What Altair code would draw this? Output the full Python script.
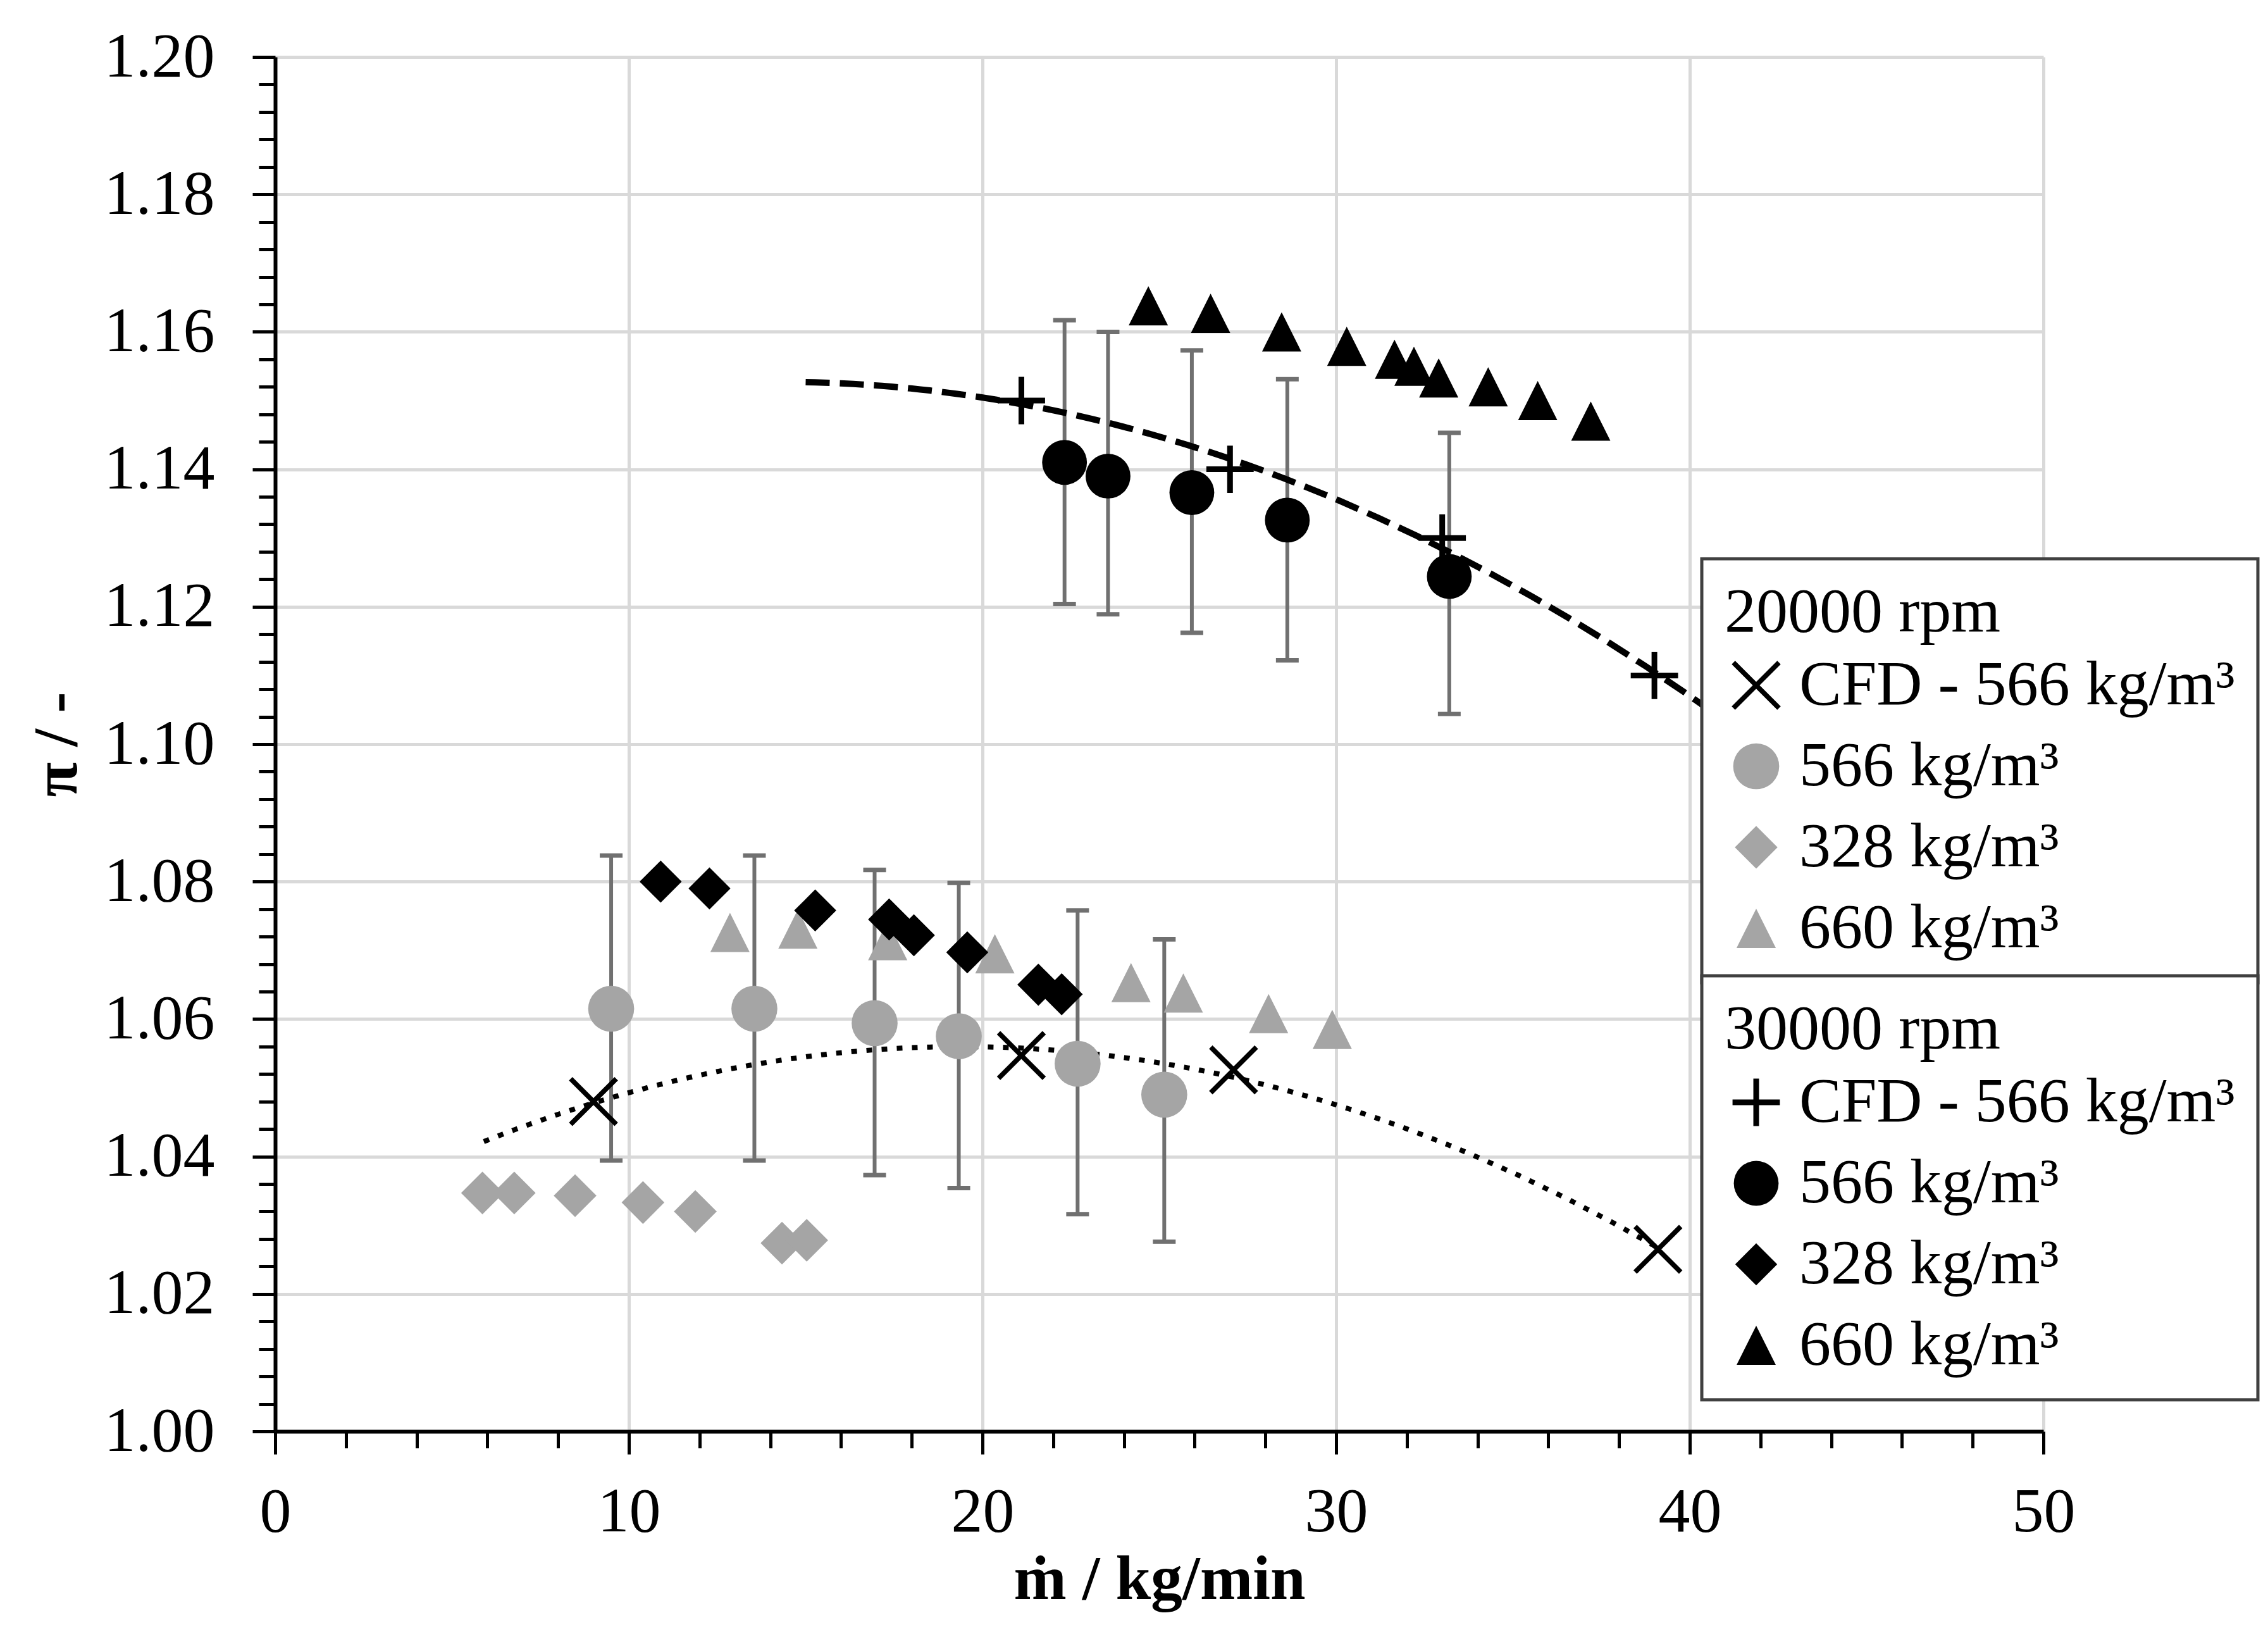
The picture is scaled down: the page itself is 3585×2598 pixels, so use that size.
import altair as alt
import pandas as pd

# ---------------- data ----------------
labels = ["CFD - 566 kg/m³", "566 kg/m³", "328 kg/m³", "660 kg/m³"]

# 20000 rpm
cfd20_x = [9.0, 21.1, 27.1, 39.1]
cfd20_y = [1.0480, 1.0547, 1.0526, 1.0265]
r566_20_x = [9.5, 13.55, 16.95, 19.33, 22.69, 25.14]
r566_20_y = [1.0615, 1.0615, 1.0594, 1.0575, 1.0535, 1.0490]
r566_20_lo = [1.0394, 1.0394, 1.0373, 1.0354, 1.0316, 1.0276]
r566_20_hi = [1.0838, 1.0838, 1.0817, 1.0798, 1.0758, 1.0716]
r328_20_x = [5.86, 6.76, 8.48, 10.4, 11.88, 14.33, 15.03]
r328_20_y = [1.0347, 1.0347, 1.0343, 1.0333, 1.0320, 1.0274, 1.0278]
r660_20_x = [12.86, 14.78, 17.32, 20.35, 24.2, 25.68, 28.09, 29.89]
r660_20_y = [1.0726, 1.0731, 1.0714, 1.0695, 1.0653, 1.0638, 1.0608, 1.0585]

# 30000 rpm
cfd30_x = [21.1, 27.0, 33.0, 39.0]
cfd30_y = [1.150, 1.140, 1.130, 1.110]
r566_30_x = [22.32, 23.55, 25.92, 28.62, 33.2]
r566_30_y = [1.1410, 1.1390, 1.1366, 1.1326, 1.1244]
r566_30_lo = [1.1204, 1.1189, 1.1162, 1.1122, 1.1044]
r566_30_hi = [1.1617, 1.1600, 1.1573, 1.1531, 1.1453]
r328_30_x = [10.9, 12.28, 15.27, 17.36, 18.06, 19.57, 21.58, 22.24]
r328_30_y = [1.0800, 1.0790, 1.0758, 1.0745, 1.0722, 1.0697, 1.0650, 1.0636]
r660_30_x = [24.69, 26.45, 28.46, 30.3, 31.65, 32.2, 32.9, 34.3, 35.7, 37.2]
r660_30_y = [1.1638, 1.1627, 1.1600, 1.1579, 1.1560, 1.1550, 1.1533, 1.1520, 1.1500, 1.1470]

x_ticks = list(range(0, 51, 2))
y_ticks = [round(1.0 + 0.004 * i, 3) for i in range(51)]

# ---------------- styles ----------------
FONT = "Liberation Serif"
GRAY = "#a5a5a5"
ERR = "#707070"
W, H = 2795, 2172
s = 0.14
X_PATH = (f"M0,-{s}L{1-s},-1L1,-{1-s}L{s},0L1,{1-s}L{1-s},1L0,{s}"
          f"L-{1-s},1L-1,{1-s}L-{s},0L-1,-{1-s}L-{1-s},-1Z")
h = 0.12
PLUS_PATH = (f"M-{h},-1L{h},-1L{h},-{h}L1,-{h}L1,{h}L{h},{h}L{h},1"
             f"L-{h},1L-{h},{h}L-1,{h}L-1,-{h}L-{h},-{h}Z")
TRI_PATH = "M0,-1L1,1L-1,1Z"


def frame(xs, ys, series):
    return pd.DataFrame({"x": xs, "y": ys, "series": series})


pts20 = pd.concat([
    frame(cfd20_x, cfd20_y, labels[0]),
    frame(r566_20_x, r566_20_y, labels[1]),
    frame(r328_20_x, r328_20_y, labels[2]),
    frame(r660_20_x, r660_20_y, labels[3]),
])
pts30 = pd.concat([
    frame(cfd30_x, cfd30_y, labels[0]),
    frame(r566_30_x, r566_30_y, labels[1]),
    frame(r328_30_x, r328_30_y, labels[2]),
    frame(r660_30_x, r660_30_y, labels[3]),
])
err20 = pd.DataFrame({"x": r566_20_x, "lo": r566_20_lo, "hi": r566_20_hi})
err30 = pd.DataFrame({"x": r566_30_x, "lo": r566_30_lo, "hi": r566_30_hi})
cfd20 = frame(cfd20_x, cfd20_y, labels[0])
cfd30 = frame(cfd30_x, cfd30_y, labels[0])

xscale = alt.Scale(domain=[0, 50], nice=False, zero=False)
yscale = alt.Scale(domain=[1.0, 1.2], nice=False, zero=False)

xminor = "datum.value % 10 !== 0"
yminor = "abs(datum.value*50 - round(datum.value*50)) > 0.01"

xaxis = alt.Axis(
    values=x_ticks, format="d", title="ṁ / kg/min",
    labelExpr="datum.value % 10 === 0 ? datum.label : ''",
    gridOpacity={"condition": {"test": xminor, "value": 0}, "value": 1},
    tickSize={"condition": {"test": xminor, "value": 26}, "value": 36},
    labelPadding=42, titlePadding=8,
)
yaxis = alt.Axis(
    values=y_ticks, format=".2f", title="π / -",
    labelExpr=f"({yminor}) ? '' : datum.label",
    gridOpacity={"condition": {"test": yminor, "value": 0}, "value": 1},
    tickSize={"condition": {"test": yminor, "value": 26}, "value": 36},
    labelPadding=60, titleX=-345, titleY=H / 2, titleAngle=270,
    titleAlign="center", titleBaseline="middle",
)


def X(field):
    return alt.X(f"{field}:Q", scale=xscale, axis=xaxis, title="ṁ / kg/min")


def Y(field):
    return alt.Y(f"{field}:Q", scale=yscale, axis=yaxis, title="π / -")


def legend(title, ly):
    return alt.Legend(
        title=title, orient="none", legendX=2255, legendY=ly,
        fillColor="white", strokeColor="#404040", padding=36,
        rowPadding=28, labelOffset=18, titlePadding=14,
        labelFont=FONT, labelFontSize=100, labelColor="black",
        titleFont=FONT, titleFontSize=100, titleFontWeight="normal",
        titleColor="black", labelLimit=2000, titleLimit=2000,
        symbolStrokeWidth=0, symbolOpacity=1,
    )


def group(pts, err, cfd, title, ly, colors, cfd_shape, cfd_size, dash, dash_w, extent):
    leg = legend(title, ly)
    rules = alt.Chart(err).mark_rule(color=ERR, strokeWidth=6).encode(
        x=X("x"), y=Y("lo"), y2="hi:Q")
    cap_lo = alt.Chart(err).mark_tick(color=ERR, orient="horizontal", size=36,
                                      thickness=7, opacity=1).encode(x=X("x"), y=Y("lo"))
    cap_hi = alt.Chart(err).mark_tick(color=ERR, orient="horizontal", size=36,
                                      thickness=7, opacity=1).encode(x=X("x"), y=Y("hi"))
    trend = alt.Chart(cfd).transform_regression(
        "x", "y", method="poly", order=2, extent=extent
    ).mark_line(color="black", strokeWidth=dash_w, strokeDash=dash).encode(
        x=X("x"), y=Y("y"))
    points = alt.Chart(pts).mark_point(filled=True, opacity=1, strokeWidth=0).encode(
        x=X("x"), y=Y("y"),
        color=alt.Color("series:N", scale=alt.Scale(domain=labels, range=colors), legend=leg),
        shape=alt.Shape("series:N", scale=alt.Scale(
            domain=labels, range=[cfd_shape, "circle", "diamond", TRI_PATH]), legend=leg),
        size=alt.Size("series:N", scale=alt.Scale(
            domain=labels, range=[cfd_size, 3844, 2809, 3700]), legend=leg),
    )
    return alt.layer(rules, cap_lo, cap_hi, trend, points)


g20 = group(pts20, err20, cfd20, "20000 rpm", 793,
            ["black", GRAY, GRAY, GRAY], X_PATH, 6000, [9, 15], 8, [5.9, 39.1])
g30 = group(pts30, err30, cfd30, "30000 rpm", 1452,
            ["black", "black", "black", "black"], PLUS_PATH, 5600, [38, 16], 10, [15, 42])

chart = alt.layer(g20, g30).resolve_scale(
    color="independent", shape="independent", size="independent"
).properties(
    width=W, height=H,
    autosize=alt.AutoSizeParams(type="none"),
    padding={"left": 427, "top": 82, "right": 347, "bottom": 328},
    background="white",
).configure_view(stroke=None).configure_axis(
    labelFont=FONT, labelFontSize=100, labelColor="black",
    titleFont=FONT, titleFontSize=100, titleFontWeight="bold", titleColor="black",
    domainColor="black", domainWidth=6, tickColor="black", tickWidth=5,
    gridColor="#d9d9d9", gridWidth=5, labelOverlap=False, labelFlush=False,
).configure_legend(strokeWidth=5)

chart.save("out.html", embed_options={"renderer": "svg", "actions": False})
